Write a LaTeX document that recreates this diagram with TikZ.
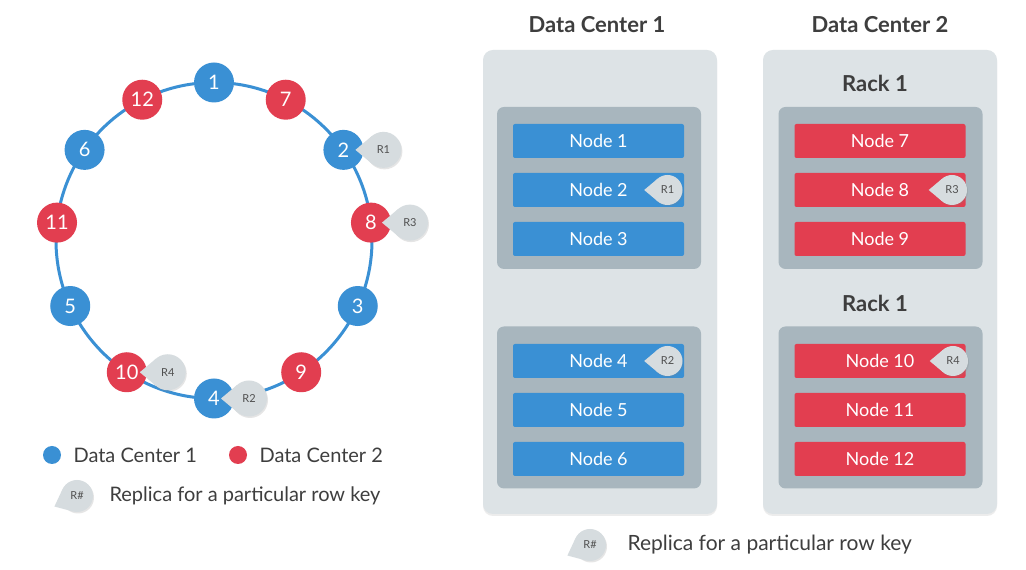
\documentclass[tikz,border=0pt]{standalone}
\usepackage{fontspec}
\setmainfont{Lato}
\usetikzlibrary{shapes.geometric, shadows}
\definecolor{dcblue}{RGB}{58,144,212}
\definecolor{dcred}{RGB}{226,62,80}
\definecolor{panelgray}{RGB}{221,227,230}
\definecolor{rackgray}{RGB}{168,182,190}
\definecolor{taggray}{RGB}{214,220,223}
\definecolor{textgray}{RGB}{62,62,62}
\definecolor{tagtext}{RGB}{80,80,80}
\tikzstyle{ringnode} = [circle, minimum size=40pt, inner sep=0pt, text=white, font=\fontsize{20}{22}\selectfont]
\tikzstyle{dcone} = [ringnode, fill=dcblue]
\tikzstyle{dctwo} = [ringnode, fill=dcred]
\tikzstyle{ring} = [line width=3pt, draw=dcblue]
\tikzstyle{panel} = [rectangle, rounded corners=10pt, fill=panelgray, minimum width=234pt, minimum height=464pt, drop shadow={shadow xshift=0pt, shadow yshift=-2pt, opacity=0.15}]
\tikzstyle{rack} = [rectangle, rounded corners=7pt, fill=rackgray, minimum width=204pt, minimum height=162pt]
\tikzstyle{box} = [rectangle, rounded corners=2pt, minimum width=171pt, minimum height=34pt, text=white, font=\fontsize{18}{20}\selectfont]
\tikzstyle{bluebox} = [box, fill=dcblue]
\tikzstyle{redbox} = [box, fill=dcred]
\tikzstyle{tag} = [circle, inner sep=0pt, outer sep=0pt, fill=taggray, text=tagtext, font=\fontsize{11}{12}\selectfont, drop shadow={shadow xshift=1pt, shadow yshift=-1.5pt, opacity=0.2}]
\tikzstyle{ringtag} = [tag, minimum size=36pt]
\tikzstyle{boxtag} = [tag, minimum size=30pt]
\tikzstyle{legtag} = [tag, minimum size=32pt]
\tikzstyle{tip} = [fill=taggray]
\tikzstyle{title} = [text=textgray, font=\bfseries\fontsize{22}{24}\selectfont]
\tikzstyle{legend} = [anchor=west, text=textgray, font=\fontsize{20}{22}\selectfont]
\tikzstyle{dot} = [circle, minimum size=18pt, inner sep=0pt]

\begin{document}
\begin{tikzpicture}[x=1pt, y=1pt, node distance=49pt]
\fill[white] (0,0) rectangle (1026,570);
\useasboundingbox (0,0) rectangle (1026,570);

% token ring
\coordinate (ringc) at (214,329.5);
\draw[ring] (ringc) circle[radius=158];
\foreach \num/\ang/\dc in {1/90/dcone, 7/63/dctwo, 2/35/dcone, 8/6.5/dctwo, 3/-24.5/dcone, 9/-56.5/dctwo,
  4/-90/dcone, 10/-123.5/dctwo, 5/-155.5/dcone, 11/173.5/dctwo, 6/145/dcone, 12/117/dctwo}
  \node (r\num) [\dc] at ([shift={(\ang:158)}]ringc) {\num};

\node (tr1) [ringtag, node distance=40pt, right of=r2] {R1};
\node (tr3) [ringtag, node distance=39pt, right of=r8] {R3};
\node (tr2) [ringtag, node distance=35pt, right of=r4] {R2};
\node (tr4) [ringtag, node distance=41pt, right of=r10] {R4};

% legend left
\node (dot1) [dot, fill=dcblue] at (52,115) {};
\node (leg1) [legend] at (70,115) {Data Center 1};
\node (dot2) [dot, fill=dcred] at (238,115) {};
\node (leg2) [legend] at (256,115) {Data Center 2};
\node (tleg1) [legtag] at (77,74) {R\#};
\node (leg3) [legend] at (106,74) {Replica for a particular row key};

% data centers
\node (dc1t) [title] at (597,545) {Data Center 1};
\node (dc2t) [title] at (880,545) {Data Center 2};
\node (dc1) [panel] at (600,288) {};
\node (dc2) [panel] at (880,288) {};
\node (rack1) [rack] at (599,382) {};
\node (rack2) [rack] at (599,162.5) {};
\node (rack3) [rack] at (880.5,382) {};
\node (rack4) [rack] at (880.5,162.5) {};
\node (rk3t) [title] at (875,487) {Rack 1};
\node (rk4t) [title] at (875,267) {Rack 1};

\node (n1) [bluebox] at (598.5,429) {Node 1};
\node (n2) [bluebox, below of=n1] {Node 2};
\node (n3) [bluebox, below of=n2] {Node 3};
\node (n4) [bluebox] at (598.5,209) {Node 4};
\node (n5) [bluebox, below of=n4] {Node 5};
\node (n6) [bluebox, below of=n5] {Node 6};
\node (n7) [redbox] at (880,429) {Node 7};
\node (n8) [redbox, below of=n7] {Node 8};
\node (n9) [redbox, below of=n8] {Node 9};
\node (n10) [redbox] at (880,209) {Node 10};
\node (n11) [redbox, below of=n10] {Node 11};
\node (n12) [redbox, below of=n11] {Node 12};

\node (tb1) [boxtag, node distance=69pt, right of=n2] {R1};
\node (tb3) [boxtag, node distance=72pt, right of=n8] {R3};
\node (tb2) [boxtag, node distance=69pt, right of=n4] {R2};
\node (tb4) [boxtag, node distance=73pt, right of=n10] {R4};

% legend bottom
\node (tleg2) [legtag] at (590,25) {R\#};
\node (leg4) [legend, font=\fontsize{21}{23}\selectfont] at (624,25) {Replica for a particular row key};

% tag tips
\foreach \t/\d/\l in {tr1/180/10pt, tr2/180/10pt, tr3/180/10pt, tr4/180/10pt,
  tb1/180/8.3pt, tb2/180/8.3pt, tb3/180/8.3pt, tb4/180/8.3pt,
  tleg1/205/8.9pt, tleg2/205/8.9pt} {
  \pgfmathtruncatemacro{\ta}{\d+50}
  \pgfmathtruncatemacro{\tb}{\d-50}
  \fill[tip] (\t.\ta) -- ([shift={(\d:\l)}]\t.\d) -- (\t.\tb) -- cycle;
}

\end{tikzpicture}
\end{document}
